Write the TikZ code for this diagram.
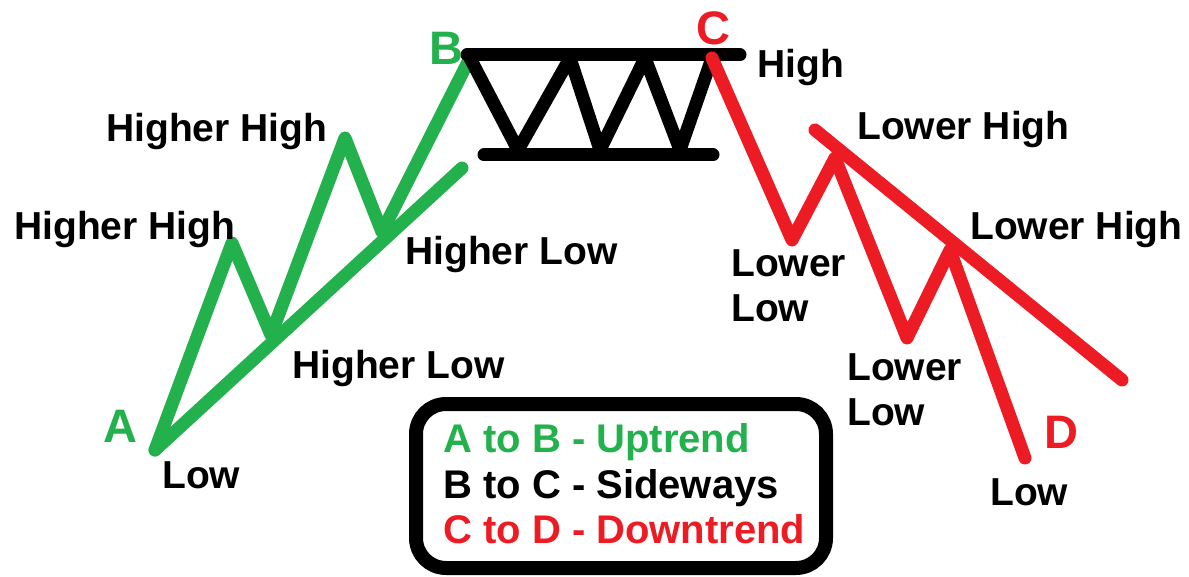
\documentclass[tikz,border=0pt]{standalone}
\usepackage{fontspec}
\setmainfont{Liberation Sans}
\definecolor{pgreen}{RGB}{34,177,76}
\definecolor{pred}{RGB}{237,28,36}
\begin{document}
\begin{tikzpicture}[x=1pt,y=-1pt,
  trend/.style={line width=13pt,line cap=round,line join=round},
  lbl/.style={anchor=base west,inner sep=0pt,font=\fontsize{39}{45}\selectfont\bfseries},
  legtext/.style={anchor=base west,inner sep=0pt,font=\fontsize{40}{46}\selectfont\bfseries},
  big/.style={anchor=base west,inner sep=0pt,font=\fontsize{47}{55}\selectfont\bfseries}]
\useasboundingbox[fill=white] (0,0) rectangle (1189,577);
% green uptrend
\coordinate (A) at (155,450);
\coordinate (g1) at (232,243);
\coordinate (g2) at (271,335);
\coordinate (g3) at (345,138);
\coordinate (g4) at (382,232);
\coordinate (B) at (468,62);
\coordinate (gt) at (462,168);
\draw[trend,pgreen] (A) -- (g1) -- (g2) -- (g3) -- (g4) -- (B);
\draw[trend,pgreen] (A) -- (gt);
% black sideways
\coordinate (t1) at (467,55);
\coordinate (t2) at (740,55);
\coordinate (b1) at (484,155);
\coordinate (b2) at (713,155);
\coordinate (k0) at (470,58);
\coordinate (k1) at (518,150);
\coordinate (k2) at (570,58);
\coordinate (k3) at (600,150);
\coordinate (k4) at (645,58);
\coordinate (k5) at (680,150);
\coordinate (C) at (712,58);
\draw[trend,black] (t1) -- (t2);
\draw[trend,black] (b1) -- (b2);
\draw[trend,black] (k0) -- (k1) -- (k2) -- (k3) -- (k4) -- (k5) -- (C);
% red downtrend
\coordinate (r1) at (792,240);
\coordinate (r2) at (835,158);
\coordinate (r3) at (907,338);
\coordinate (r4) at (950,250);
\coordinate (D) at (1025,458);
\coordinate (rt1) at (815,130);
\coordinate (rt2) at (1122,380);
\draw[trend,pred] (C) -- (r1) -- (r2) -- (r3) -- (r4) -- (D);
\draw[trend,pred] (rt1) -- (rt2);
% letters
\node[big,pgreen] (lA) at (103,442) {A};
\node[big,pgreen] (lB) at (429,65) {B};
\node[big,pred] (lC) at (696,45) {C};
\node[big,pred] (lD) at (1044,448) {D};
% labels
\node[lbl] (hh1) at (106,142) {Higher High};
\node[lbl] (hh2) at (14,240) {Higher High};
\node[lbl] (hl1) at (405,265) {Higher Low};
\node[lbl] (hl2) at (292,378) {Higher Low};
\node[lbl] (lowA) at (162,488) {Low};
\node[lbl] (high) at (757,78) {High};
\node[lbl] (lh1) at (857,140) {Lower High};
\node[lbl] (lh2) at (970,240) {Lower High};
\node[lbl,align=left] (ll1) at (731,322) {Lower\\Low};
\node[lbl,align=left] (ll2) at (847,425) {Lower\\Low};
\node[lbl] (lowD) at (990,505) {Low};
% legend
\node[draw=black,line width=14pt,rounded corners=30pt,minimum width=410pt,minimum height=164pt,inner sep=0pt] (legend) at (621,486) {};
\node[legtext,pgreen] (leg1) at (443,452) {A to B - Uptrend};
\node[legtext,black] (leg2) at (443,498) {B to C - Sideways};
\node[legtext,pred] (leg3) at (443,543) {C to D - Downtrend};
\end{tikzpicture}
\end{document}
